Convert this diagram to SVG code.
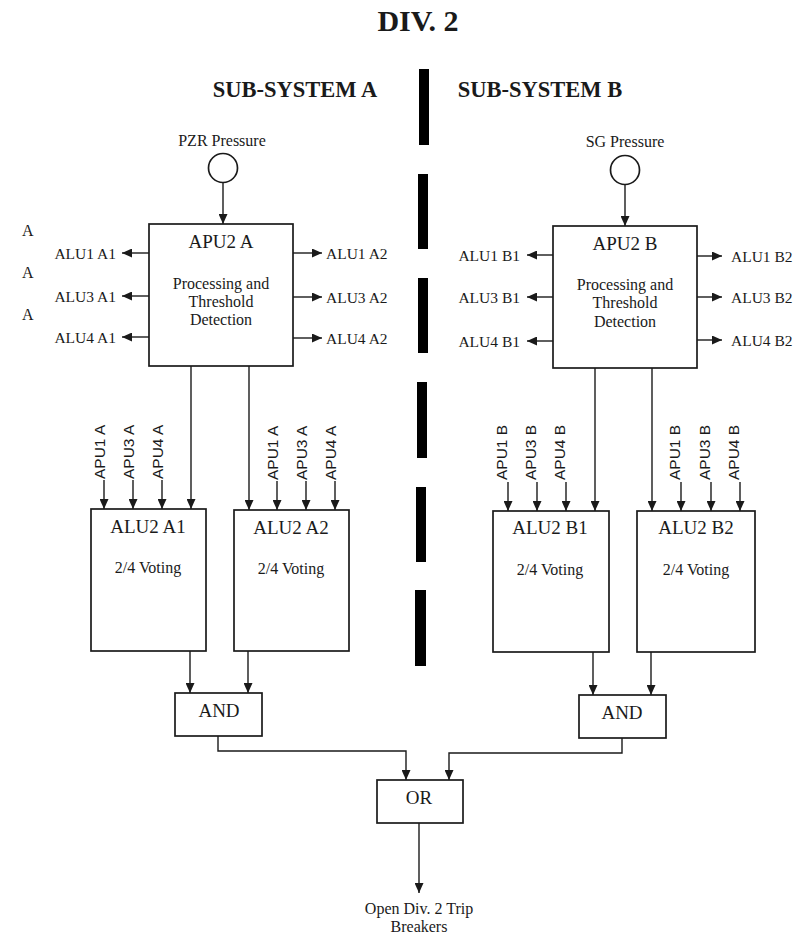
<svg xmlns="http://www.w3.org/2000/svg" width="799" height="934" viewBox="0 0 799 934">
<style>
.bx{fill:#fff;stroke:#1a1a1a;stroke-width:1.7}
.ln{fill:none;stroke:#1a1a1a;stroke-width:1.4}
.t{font-family:"Liberation Serif","Times New Roman",serif;fill:#1a1a1a}
.s{font-family:"Liberation Sans",Arial,sans-serif;fill:#1a1a1a;font-size:15.5px}
.lbl{font-size:15.5px}
.h{font-weight:bold}
.dash{fill:#000}
</style>
<defs>
<marker id="ar" markerUnits="userSpaceOnUse" markerWidth="10" markerHeight="9" refX="10" refY="4.5" orient="auto">
<path d="M0,0 L10,4.5 L0,9 z" fill="#1a1a1a"/>
</marker>
</defs>
<rect width="799" height="934" fill="#fff"/>

<text class="t h" x="418" y="31" font-size="30" text-anchor="middle">DIV. 2</text>
<text class="t h" x="295" y="97" font-size="22.5" text-anchor="middle">SUB-SYSTEM A</text>
<text class="t h" x="540" y="97" font-size="22.5" text-anchor="middle">SUB-SYSTEM B</text>

<g id="divider">
<rect class="dash" x="419" y="69" width="10" height="76"/>
<rect class="dash" x="418" y="174" width="10" height="75"/>
<rect class="dash" x="418" y="278" width="10" height="75"/>
<rect class="dash" x="417" y="382" width="10" height="76"/>
<rect class="dash" x="416" y="487" width="10" height="75"/>
<rect class="dash" x="415" y="590" width="11" height="76"/>
</g>

<g id="stray-labels">
<text class="t" x="22" y="236" font-size="16">A</text>
<text class="t" x="22" y="278" font-size="16">A</text>
<text class="t" x="22" y="320" font-size="16">A</text>
</g>

<g id="pzr-sensor">
<text class="t" x="222" y="146" font-size="16" text-anchor="middle">PZR Pressure</text>
<circle class="bx" cx="223" cy="168" r="14.5"/>
</g>
<g id="sg-sensor">
<text class="t" x="625" y="147" font-size="16" text-anchor="middle">SG Pressure</text>
<circle class="bx" cx="625" cy="170" r="14.5"/>
</g>

<g id="connectors">
<line class="ln" x1="223" y1="183" x2="223" y2="224" marker-end="url(#ar)"/>
<line class="ln" x1="625" y1="185" x2="625" y2="226" marker-end="url(#ar)"/>
<!-- APU2 A outputs -->
<line class="ln" x1="149" y1="253" x2="122" y2="253" marker-end="url(#ar)"/>
<line class="ln" x1="149" y1="296" x2="122" y2="296" marker-end="url(#ar)"/>
<line class="ln" x1="149" y1="337" x2="122" y2="337" marker-end="url(#ar)"/>
<line class="ln" x1="293" y1="253" x2="322" y2="253" marker-end="url(#ar)"/>
<line class="ln" x1="293" y1="297" x2="322" y2="297" marker-end="url(#ar)"/>
<line class="ln" x1="293" y1="338" x2="322" y2="338" marker-end="url(#ar)"/>
<!-- APU2 B outputs -->
<line class="ln" x1="553" y1="255" x2="527" y2="255" marker-end="url(#ar)"/>
<line class="ln" x1="553" y1="297" x2="527" y2="297" marker-end="url(#ar)"/>
<line class="ln" x1="553" y1="341" x2="527" y2="341" marker-end="url(#ar)"/>
<line class="ln" x1="697" y1="256" x2="722" y2="256" marker-end="url(#ar)"/>
<line class="ln" x1="697" y1="297" x2="722" y2="297" marker-end="url(#ar)"/>
<line class="ln" x1="697" y1="340" x2="722" y2="340" marker-end="url(#ar)"/>
<!-- APU to ALU -->
<line class="ln" x1="191" y1="366" x2="191" y2="509" marker-end="url(#ar)"/>
<line class="ln" x1="249" y1="366" x2="249" y2="510" marker-end="url(#ar)"/>
<line class="ln" x1="595" y1="368" x2="595" y2="511" marker-end="url(#ar)"/>
<line class="ln" x1="652" y1="368" x2="652" y2="511" marker-end="url(#ar)"/>
<!-- external inputs A -->
<line class="ln" x1="104" y1="480" x2="104" y2="509" marker-end="url(#ar)"/>
<line class="ln" x1="133" y1="480" x2="133" y2="509" marker-end="url(#ar)"/>
<line class="ln" x1="162" y1="480" x2="162" y2="509" marker-end="url(#ar)"/>
<line class="ln" x1="277" y1="481" x2="277" y2="510" marker-end="url(#ar)"/>
<line class="ln" x1="306" y1="481" x2="306" y2="510" marker-end="url(#ar)"/>
<line class="ln" x1="335" y1="481" x2="335" y2="510" marker-end="url(#ar)"/>
<!-- external inputs B -->
<line class="ln" x1="508" y1="482" x2="508" y2="511" marker-end="url(#ar)"/>
<line class="ln" x1="537" y1="482" x2="537" y2="511" marker-end="url(#ar)"/>
<line class="ln" x1="566" y1="482" x2="566" y2="511" marker-end="url(#ar)"/>
<line class="ln" x1="681" y1="482" x2="681" y2="511" marker-end="url(#ar)"/>
<line class="ln" x1="711" y1="482" x2="711" y2="511" marker-end="url(#ar)"/>
<line class="ln" x1="740" y1="482" x2="740" y2="511" marker-end="url(#ar)"/>
<!-- ALU to AND -->
<line class="ln" x1="190" y1="651" x2="190" y2="693" marker-end="url(#ar)"/>
<line class="ln" x1="248" y1="651" x2="248" y2="693" marker-end="url(#ar)"/>
<line class="ln" x1="593" y1="652" x2="593" y2="695" marker-end="url(#ar)"/>
<line class="ln" x1="651" y1="652" x2="651" y2="695" marker-end="url(#ar)"/>
<!-- AND to OR -->
<polyline class="ln" points="218,736 218,751 406,751 406,780" marker-end="url(#ar)"/>
<polyline class="ln" points="622,738 622,753 449,753 449,780" marker-end="url(#ar)"/>
<!-- OR to output -->
<line class="ln" x1="419" y1="823" x2="419" y2="893" marker-end="url(#ar)"/>
</g>

<g id="apu2-a">
<rect class="bx" x="149" y="224" width="144" height="142"/>
<text class="t" x="221" y="248" font-size="19" text-anchor="middle">APU2 A</text>
<text class="t" x="221" y="289" font-size="16" text-anchor="middle">Processing and</text>
<text class="t" x="221" y="307" font-size="16" text-anchor="middle">Threshold</text>
<text class="t" x="221" y="325" font-size="16" text-anchor="middle">Detection</text>
</g>
<g id="apu2-a-outputs">
<text class="t lbl" x="116" y="259" text-anchor="end">ALU1 A1</text>
<text class="t lbl" x="116" y="302" text-anchor="end">ALU3 A1</text>
<text class="t lbl" x="116" y="343" text-anchor="end">ALU4 A1</text>
<text class="t lbl" x="326" y="259">ALU1 A2</text>
<text class="t lbl" x="326" y="303">ALU3 A2</text>
<text class="t lbl" x="326" y="344">ALU4 A2</text>
</g>

<g id="apu2-b">
<rect class="bx" x="553" y="226" width="144" height="142"/>
<text class="t" x="625" y="250" font-size="19" text-anchor="middle">APU2 B</text>
<text class="t" x="625" y="290" font-size="16" text-anchor="middle">Processing and</text>
<text class="t" x="625" y="308" font-size="16" text-anchor="middle">Threshold</text>
<text class="t" x="625" y="327" font-size="16" text-anchor="middle">Detection</text>
</g>
<g id="apu2-b-outputs">
<text class="t lbl" x="520" y="261" text-anchor="end">ALU1 B1</text>
<text class="t lbl" x="520" y="303" text-anchor="end">ALU3 B1</text>
<text class="t lbl" x="520" y="347" text-anchor="end">ALU4 B1</text>
<text class="t lbl" x="731" y="262">ALU1 B2</text>
<text class="t lbl" x="731" y="303">ALU3 B2</text>
<text class="t lbl" x="731" y="346">ALU4 B2</text>
</g>

<g id="inputs-a">
<text class="s" transform="translate(105,479) rotate(-90)">APU1 A</text>
<text class="s" transform="translate(134,479) rotate(-90)">APU3 A</text>
<text class="s" transform="translate(163,479) rotate(-90)">APU4 A</text>
<text class="s" transform="translate(278,480) rotate(-90)">APU1 A</text>
<text class="s" transform="translate(307,480) rotate(-90)">APU3 A</text>
<text class="s" transform="translate(336,480) rotate(-90)">APU4 A</text>
</g>
<g id="inputs-b">
<text class="s" transform="translate(507,480) rotate(-90)">APU1 B</text>
<text class="s" transform="translate(536,480) rotate(-90)">APU3 B</text>
<text class="s" transform="translate(565,480) rotate(-90)">APU4 B</text>
<text class="s" transform="translate(680,480) rotate(-90)">APU1 B</text>
<text class="s" transform="translate(710,480) rotate(-90)">APU3 B</text>
<text class="s" transform="translate(739,480) rotate(-90)">APU4 B</text>
</g>

<g id="alu2-a1">
<rect class="bx" x="91" y="509" width="115" height="142"/>
<text class="t" x="148" y="533" font-size="19" text-anchor="middle">ALU2 A1</text>
<text class="t" x="148" y="573" font-size="16" text-anchor="middle">2/4 Voting</text>
</g>
<g id="alu2-a2">
<rect class="bx" x="234" y="510" width="115" height="141"/>
<text class="t" x="291" y="534" font-size="19" text-anchor="middle">ALU2 A2</text>
<text class="t" x="291" y="574" font-size="16" text-anchor="middle">2/4 Voting</text>
</g>
<g id="alu2-b1">
<rect class="bx" x="493" y="511" width="116" height="141"/>
<text class="t" x="550" y="534" font-size="19" text-anchor="middle">ALU2 B1</text>
<text class="t" x="550" y="575" font-size="16" text-anchor="middle">2/4 Voting</text>
</g>
<g id="alu2-b2">
<rect class="bx" x="637" y="511" width="118" height="141"/>
<text class="t" x="696" y="534" font-size="19" text-anchor="middle">ALU2 B2</text>
<text class="t" x="696" y="575" font-size="16" text-anchor="middle">2/4 Voting</text>
</g>

<g id="and-a">
<rect class="bx" x="175" y="693" width="87" height="43"/>
<text class="t" x="219" y="717" font-size="19" text-anchor="middle">AND</text>
</g>
<g id="and-b">
<rect class="bx" x="579" y="695" width="87" height="43"/>
<text class="t" x="622" y="719" font-size="19" text-anchor="middle">AND</text>
</g>
<g id="or">
<rect class="bx" x="377" y="780" width="86" height="43"/>
<text class="t" x="419" y="804" font-size="19" text-anchor="middle">OR</text>
</g>
<g id="output">
<text class="t" x="419" y="914" font-size="16" text-anchor="middle">Open Div. 2 Trip</text>
<text class="t" x="419" y="932" font-size="16" text-anchor="middle">Breakers</text>
</g>
</svg>
